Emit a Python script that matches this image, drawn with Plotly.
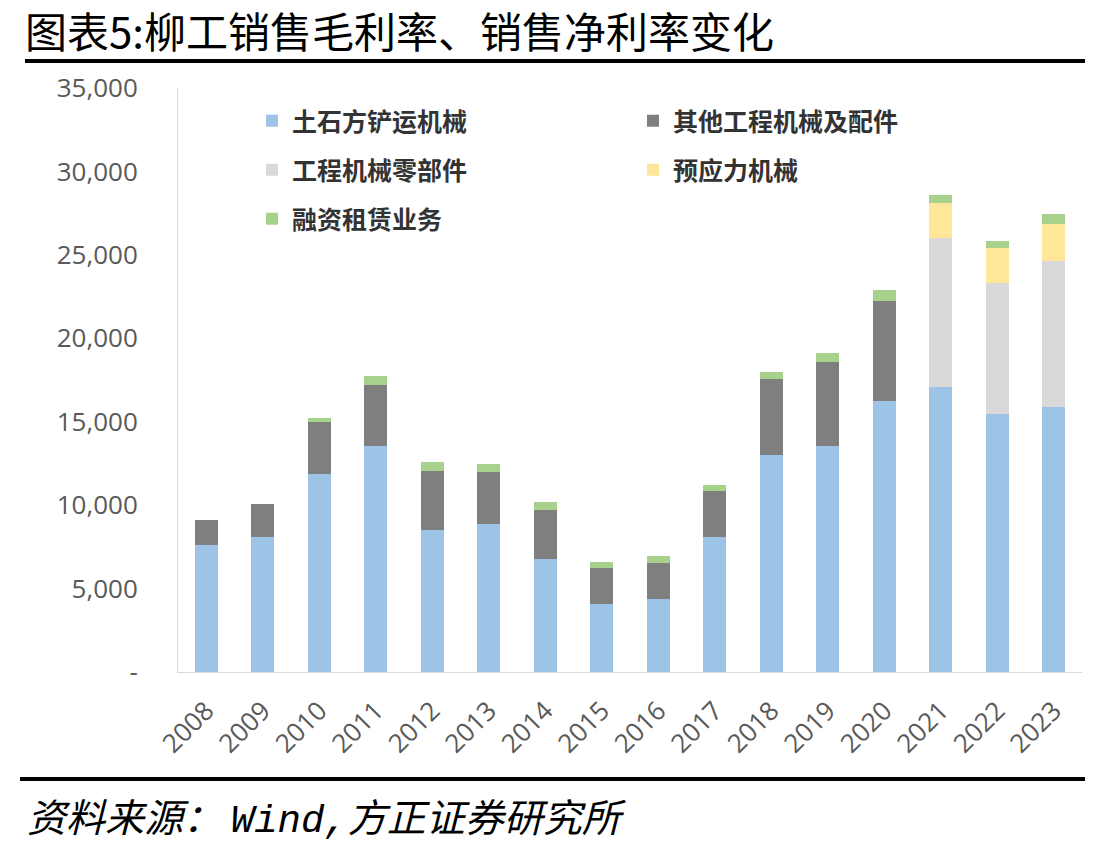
import plotly.graph_objects as go

years = ["2008", "2009", "2010", "2011", "2012", "2013", "2014", "2015",
         "2016", "2017", "2018", "2019", "2020", "2021", "2022", "2023"]

earthmoving = [7610, 8090, 11860, 13540, 8510, 8850, 6750, 4070,
               4360, 8110, 13000, 13560, 16220, 17060, 15480, 15860]
other_machinery = [1500, 1980, 3120, 3660, 3530, 3150, 2970, 2160,
                   2190, 2730, 4560, 4990, 6010, 0, 0, 0]
parts = [0, 0, 0, 0, 0, 0, 0, 0, 0, 0, 0, 0, 0, 8960, 7830, 8770]
prestress = [0, 0, 0, 0, 0, 0, 0, 0, 0, 0, 0, 0, 0, 2060, 2120, 2210]
leasing = [0, 0, 240, 530, 540, 440, 450, 380, 420, 380, 430, 540, 680, 500, 400, 580]

series_names = ["土石方铲运机械", "其他工程机械及配件", "工程机械零部件", "预应力机械", "融资租赁业务"]
series_colors = ["#9DC3E6", "#7F7F7F", "#D9D9D9", "#FFE699", "#A9D18E"]
series_values = [earthmoving, other_machinery, parts, prestress, leasing]
series_legend = ["legend", "legend", "legend2", "legend2", "legend3"]

y_tickvals = [0, 5000, 10000, 15000, 20000, 25000, 30000, 35000]
y_ticktext = ["-", "5,000", "10,000", "15,000", "20,000", "25,000", "30,000", "35,000"]

fig = go.Figure()
for name, color, vals, lg in zip(series_names, series_colors, series_values, series_legend):
    fig.add_trace(go.Bar(x=years, y=vals, name=name, legend=lg,
                         marker=dict(color=color, line=dict(width=0))))

W, H = 1111, 850
L, R, T, B = 178, 29, 88, 178
pw, ph = W - L - R, H - T - B

def px(x):
    return (x - L) / pw

def py(y):
    return (H - B - y) / ph

legend_font = dict(family="Noto Sans CJK SC", size=25, color="#333333", weight="bold")

def make_legend(row_y):
    return dict(orientation="h", x=px(252), y=py(row_y), xanchor="left", yanchor="middle",
                entrywidth=336, entrywidthmode="pixels", font=legend_font,
                traceorder="normal", bgcolor="rgba(0,0,0,0)")

fig.update_layout(
    width=W, height=H,
    margin=dict(l=L, r=R, t=T, b=B),
    barmode="stack",
    bargap=0.6,
    plot_bgcolor="white",
    paper_bgcolor="white",
    title=dict(text="图表5:柳工销售毛利率、销售净利率变化", xref="container", yref="container",
               x=25 / W, xanchor="left", y=1 - 33 / H, yanchor="middle",
               font=dict(family="Noto Sans CJK SC", size=42, color="#000000")),
    legend=make_legend(121),
    legend2=make_legend(170),
    legend3=make_legend(219),
    xaxis=dict(showline=True, linecolor="#D9D9D9", linewidth=1, ticks="", tickangle=-45,
               ticklabelstandoff=12,
               tickfont=dict(family="Open Sans", size=26, color="#595959"), showgrid=False),
    yaxis=dict(range=[0, 35000], tickvals=y_tickvals, ticktext=y_ticktext, showline=True,
               linecolor="#D9D9D9", linewidth=1, showgrid=False, zeroline=False, ticks="",
               ticklabelstandoff=34,
               tickfont=dict(family="Open Sans", size=26, color="#595959")),
    shapes=[
        dict(type="line", xref="paper", yref="paper", x0=px(25), x1=px(1085), y0=py(61), y1=py(61),
             line=dict(color="#000000", width=4)),
        dict(type="line", xref="paper", yref="paper", x0=px(20), x1=px(1085), y0=py(779), y1=py(779),
             line=dict(color="#000000", width=4)),
    ],
    annotations=[
        dict(text="<i>资料来源： <span style='font-family:Liberation Mono'>Wind,</span>方正证券研究所</i>",
             xref="paper", yref="paper", x=px(25), y=py(815),
             xanchor="left", yanchor="middle", showarrow=False,
             font=dict(family="Noto Sans CJK SC", size=39, color="#000000")),
    ],
)

fig.write_html("out.html")
